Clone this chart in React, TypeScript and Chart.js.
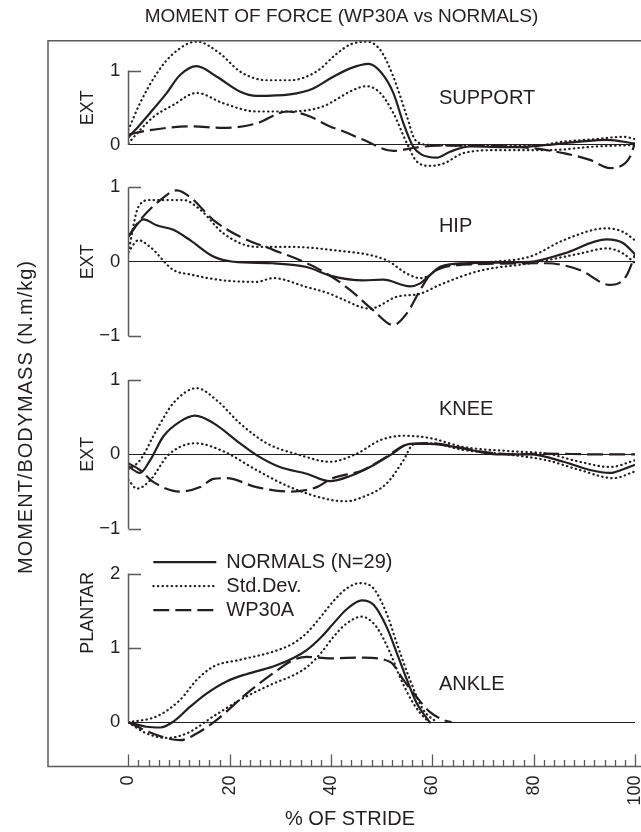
import React, { useEffect, useRef } from "react";
import { Chart, registerables } from "chart.js";

Chart.register(...registerables);

type Pt = [number, number];

// ---- data: [% of stride, moment (N.m/kg)] ----
const supportNormal: Pt[] = [[0, 0.1], [2, 0.25], [4.3, 0.43], [7.6, 0.7], [10.2, 0.94], [13.5, 1.06], [17.4, 0.92], [22, 0.72], [25.3, 0.66], [31.9, 0.68], [36.5, 0.76], [40, 0.9], [43.8, 1.03], [47.4, 1.09], [49.7, 0.99], [52.3, 0.7], [54.3, 0.29], [56.2, -0.02], [57.9, -0.13], [60.9, -0.17], [63.5, -0.09], [67.4, -0.02], [75.9, -0.03], [82.6, 0], [89.1, 0.045], [94.4, 0.07], [100, 0.02]];
const supportSdHigh: Pt[] = [[0, 0.2], [2.3, 0.56], [5.6, 0.96], [8.9, 1.23], [13.5, 1.39], [18.1, 1.23], [22, 0.99], [27.3, 0.87], [31.9, 0.87], [37.2, 0.99], [41, 1.22], [43.8, 1.35], [47, 1.39], [49.7, 1.28], [52.3, 0.92], [55, 0.38], [56.6, 0.07], [59.5, 0], [70, -0.01], [80, -0.01], [85.9, 0.045], [92.4, 0.08], [97.7, 0.11], [100, 0.08]];
const supportSdLow: Pt[] = [[0, 0.02], [2.3, 0.2], [5, 0.38], [8.9, 0.54], [13.5, 0.7], [18.8, 0.56], [25.3, 0.45], [31.9, 0.45], [38.5, 0.52], [41, 0.61], [43.8, 0.72], [47, 0.79], [49.7, 0.7], [52.3, 0.43], [55, 0.02], [56.9, -0.22], [59.5, -0.28], [62.2, -0.25], [66.1, -0.11], [72.7, -0.07], [82.6, -0.07], [92.4, -0.02], [100, 0]];
const supportPatient: Pt[] = [[0, 0.14], [4.3, 0.2], [12.2, 0.25], [18.8, 0.23], [25.3, 0.29], [31.3, 0.45], [35.2, 0.4], [39.8, 0.25], [41.8, 0.2], [46.4, 0.07], [52.3, -0.08], [56.2, -0.04], [60.9, -0.01], [69.4, -0.01], [79.3, -0.04], [85.9, -0.11], [91.1, -0.2], [95.1, -0.31], [97, -0.29], [99, -0.16], [100, 0.03]];

const hipNormal: Pt[] = [[0, 0.34], [3, 0.57], [5.6, 0.49], [8.9, 0.43], [12.2, 0.29], [16.8, 0.07], [20.7, 0], [28.6, -0.02], [35.2, -0.07], [40, -0.19], [46.4, -0.25], [50.3, -0.24], [55.6, -0.33], [57.6, -0.29], [59.5, -0.18], [61.5, -0.07], [66.1, -0.02], [79.3, 0], [85.9, 0.11], [94.4, 0.3], [97.7, 0.25], [100, 0.1]];
const hipSdHigh: Pt[] = [[0, 0.13], [2, 0.74], [4.3, 0.83], [8.9, 0.83], [10.9, 0.83], [14.2, 0.7], [18.8, 0.38], [25.3, 0.2], [31.9, 0.2], [40, 0.16], [51, 0.02], [55, -0.16], [57.6, -0.22], [59.5, -0.18], [61.5, -0.07], [66, -0.03], [72, 0], [79.3, 0.07], [85.9, 0.29], [94.4, 0.45], [97.7, 0.4], [100, 0.29]];
const hipSdLow: Pt[] = [[0, 0.13], [2, 0.29], [4.3, 0.2], [8.9, -0.11], [12.2, -0.17], [18.8, -0.25], [25.3, -0.27], [28.6, -0.22], [35.2, -0.34], [39.8, -0.43], [41.8, -0.49], [47.7, -0.63], [53, -0.47], [57.6, -0.43], [61.5, -0.31], [69.4, -0.12], [79.3, -0.02], [89.1, 0.11], [94.4, 0.18], [97.7, 0.11], [100, -0.02]];
const hipPatient: Pt[] = [[0, 0.34], [2.3, 0.56], [6.3, 0.83], [9.6, 0.96], [12.2, 0.87], [16.8, 0.56], [22, 0.34], [28.6, 0.16], [33.9, 0.02], [39.2, -0.16], [43.8, -0.38], [48.3, -0.65], [52.3, -0.85], [55, -0.69], [57.6, -0.38], [59.5, -0.18], [62, -0.08], [66, -0.04], [82.6, -0.02], [89.1, -0.11], [95, -0.31], [97.6, -0.25], [98.6, -0.15], [99.6, 0.02], [100, 0.1]];

const kneeNormal: Pt[] = [[0, -0.16], [2.3, -0.25], [4.3, -0.08], [6.9, 0.24], [10.2, 0.44], [13.2, 0.52], [16.8, 0.42], [22, 0.15], [25.3, -0.01], [29.9, -0.17], [35.2, -0.26], [39.8, -0.36], [43.8, -0.29], [47.7, -0.17], [51.7, -0.01], [55.6, 0.14], [59.5, 0.14], [66.1, 0.08], [72.7, 0], [79.3, 0], [85.9, -0.1], [91.1, -0.21], [95.1, -0.25], [97.7, -0.2], [100, -0.14]];
const kneeSdHigh: Pt[] = [[0, -0.2], [2.3, -0.08], [5.6, 0.33], [8.9, 0.69], [13.5, 0.89], [17.4, 0.73], [22, 0.42], [27.3, 0.15], [33.9, -0.01], [39.8, -0.1], [45.1, 0.01], [49.7, 0.19], [54.3, 0.25], [59.5, 0.22], [66.1, 0.1], [76, 0.04], [82.6, 0.01], [89.1, -0.1], [95.1, -0.17], [100, -0.08]];
const kneeSdLow: Pt[] = [[0, -0.34], [1.7, -0.46], [4.3, -0.35], [7.6, -0.03], [10.2, 0.1], [13.2, 0.15], [18.8, 0.04], [25.3, -0.21], [31.9, -0.44], [39.8, -0.61], [43, -0.63], [46.4, -0.57], [51, -0.39], [54.3, -0.08], [56.2, 0.13], [59.5, 0.15], [66.1, 0.06], [76, -0.01], [82.6, -0.08], [89.1, -0.21], [95.7, -0.32], [100, -0.23]];
const kneePatient: Pt[] = [[0, -0.12], [2.3, -0.21], [4.9, -0.37], [10.2, -0.5], [14.2, -0.44], [16.8, -0.33], [19.4, -0.32], [25.3, -0.44], [31.9, -0.5], [37.2, -0.44], [40, -0.33], [46.4, -0.21], [51, -0.03], [54.9, 0.13], [59.5, 0.15], [69.4, 0.04], [76, 0], [82.6, 0.01], [92.4, 0], [100, 0]];

const ankleNormal: Pt[] = [[0, 0], [3.6, -0.06], [6.3, -0.07], [8.9, 0.01], [12.2, 0.21], [15.5, 0.39], [19.4, 0.55], [23.4, 0.65], [28.6, 0.75], [32.5, 0.86], [35.2, 0.97], [38, 1.14], [40.5, 1.33], [43.1, 1.52], [46.1, 1.64], [48.4, 1.58], [51, 1.28], [53, 0.93], [55, 0.57], [56.9, 0.26], [59.5, 0]];
const ankleSdHigh: Pt[] = [[0, 0], [5.6, 0.08], [10.2, 0.3], [13.5, 0.57], [16.8, 0.75], [22, 0.84], [28.6, 0.95], [32.5, 1.06], [35.2, 1.2], [38, 1.42], [40.5, 1.63], [43.1, 1.8], [45.7, 1.87], [48.4, 1.8], [51, 1.46], [53, 1.06], [55.6, 0.57], [58.2, 0.17], [60.9, 0]];
const ankleSdLow: Pt[] = [[0, 0], [3.6, -0.15], [7.6, -0.21], [11.5, -0.15], [16.8, 0.08], [22, 0.3], [28.6, 0.52], [32.5, 0.63], [35.2, 0.74], [38, 0.93], [40.5, 1.15], [43.1, 1.33], [46.1, 1.42], [49, 1.28], [51.7, 0.93], [53.6, 0.61], [56.2, 0.26], [58.9, 0.03], [59.5, 0]];
const anklePatient: Pt[] = [[0, 0], [5.6, -0.17], [10.2, -0.24], [13.5, -0.15], [17.4, 0.03], [23.4, 0.39], [28.6, 0.66], [32.6, 0.84], [35.2, 0.88], [39.8, 0.86], [46.4, 0.87], [51.7, 0.81], [54.3, 0.57], [56.9, 0.34], [59.5, 0.14], [62.2, 0.03], [63.8, 0]];

// ---- panel definitions (top to bottom) ----
const panelIds = ["ySupport", "yHip", "yKnee", "yAnkle"];
const panelNames = ["SUPPORT", "HIP", "KNEE", "ANKLE"];
const panelNameY = [0.62, 0.47, 0.61, 0.51];
const panelAxisTitles = ["EXT", "EXT", "EXT", "PLANTAR"];
const panelAxisTitleY = [0.5, 0, 0, 1.47];
const panelTicks = [[0, 1], [-1, 0, 1], [-1, 0, 1], [0, 1, 2]];
const panelRanges: Pt[] = [[-0.44, 1.402], [-1.294, 1.13], [-1.286, 1.295], [-0.594, 2.316]];
const panelSeries: Pt[][][] = [
  [supportNormal, supportSdHigh, supportSdLow, supportPatient],
  [hipNormal, hipSdHigh, hipSdLow, hipPatient],
  [kneeNormal, kneeSdHigh, kneeSdLow, kneePatient],
  [ankleNormal, ankleSdHigh, ankleSdLow, anklePatient],
];
const xMajorTicks = [0, 20, 40, 60, 80, 100];
const legendLabels = ["NORMALS (N=29)", "Std.Dev.", "WP30A"];

const INK = "#231f20";
const FRAME = "#5a5a5c";
const FONT = '"Liberation Sans", Arial, Helvetica, sans-serif';

type LineStyle = { borderDash: number[]; borderWidth: number; borderCapStyle: CanvasLineCap };
const lineStyles: LineStyle[] = [
  { borderDash: [], borderWidth: 2.2, borderCapStyle: "butt" },
  { borderDash: [0.4, 4.2], borderWidth: 2.2, borderCapStyle: "round" },
  { borderDash: [16, 6], borderWidth: 2.2, borderCapStyle: "butt" },
];
const seriesStyle = [0, 1, 1, 2];

const decorations = {
  id: "decorations",
  afterDraw(chart: any) {
    const ctx: CanvasRenderingContext2D = chart.ctx;
    const { top, bottom } = chart.chartArea;
    const xs = chart.scales.x;
    const frameLeft = chart.scales[panelIds[0]].left;
    ctx.save();

    // outer frame (left, top, bottom)
    ctx.strokeStyle = FRAME;
    ctx.lineWidth = 1.5;
    ctx.beginPath();
    ctx.moveTo(chart.width, top);
    ctx.lineTo(frameLeft, top);
    ctx.lineTo(frameLeft, bottom);
    ctx.lineTo(chart.width, bottom);
    ctx.stroke();

    // inward x ticks, major every 20 %, minor every 2 %
    ctx.lineWidth = 1.3;
    ctx.beginPath();
    for (let v = 0; v <= 100; v += 2) {
      const px = Math.round(xs.getPixelForValue(v)) + 0.5;
      const len = v % 20 === 0 ? 12 : 6.5;
      ctx.moveTo(px, bottom);
      ctx.lineTo(px, bottom - len);
    }
    ctx.stroke();

    panelIds.forEach((id, i) => {
      const s = chart.scales[id];
      const ticks = panelTicks[i];
      const ax = Math.round(s.right) + 0.5;
      ctx.strokeStyle = FRAME;
      ctx.lineWidth = 1.5;
      ctx.beginPath();
      ctx.moveTo(ax, s.getPixelForValue(ticks[0]));
      ctx.lineTo(ax, s.getPixelForValue(ticks[ticks.length - 1]));
      ticks.forEach((t) => {
        if (t === 0) return;
        const py = Math.round(s.getPixelForValue(t)) + 0.5;
        ctx.moveTo(ax, py);
        ctx.lineTo(ax + 12.5, py);
      });
      ctx.stroke();

      // panel name
      ctx.fillStyle = INK;
      ctx.font = `20px ${FONT}`;
      ctx.textAlign = "left";
      ctx.textBaseline = "middle";
      ctx.fillText(panelNames[i], xs.getPixelForValue(61.3), s.getPixelForValue(panelNameY[i]));

      // axis sense label
      ctx.save();
      ctx.translate(88, s.getPixelForValue(panelAxisTitleY[i]));
      ctx.rotate(-Math.PI / 2);
      ctx.font = `18px ${FONT}`;
      ctx.textAlign = "center";
      ctx.fillText(panelAxisTitles[i], 0, 0);
      ctx.restore();
    });

    // common axis titles
    ctx.fillStyle = INK;
    ctx.font = `20px ${FONT}`;
    ctx.textAlign = "center";
    ctx.textBaseline = "middle";
    ctx.fillText("% OF STRIDE", 350, 819);
    ctx.save();
    ctx.translate(26, 417);
    ctx.rotate(-Math.PI / 2);
    (ctx as any).letterSpacing = "1px";
    ctx.fillText("MOMENT/BODYMASS (N.m/kg)", 0, 0);
    ctx.restore();

    // legend in the ankle panel
    const ankle = chart.scales[panelIds[3]];
    const lx = chart.chartArea.left + 25;
    legendLabels.forEach((label, k) => {
      const y = ankle.top + 12 + k * 24;
      const st = lineStyles[k];
      ctx.strokeStyle = INK;
      ctx.lineWidth = st.borderWidth;
      ctx.lineCap = st.borderCapStyle;
      ctx.setLineDash(st.borderDash);
      ctx.beginPath();
      ctx.moveTo(lx, y);
      ctx.lineTo(lx + 63, y);
      ctx.stroke();
      ctx.setLineDash([]);
      ctx.fillStyle = INK;
      ctx.font = `20px ${FONT}`;
      ctx.textAlign = "left";
      ctx.fillText(label, lx + 73, y);
    });

    ctx.restore();
  },
};

export default function App() {
  const canvasRef = useRef<HTMLCanvasElement | null>(null);

  useEffect(() => {
    if (!canvasRef.current) return;

    const datasets: any[] = [];
    panelSeries.forEach((series, i) => {
      series.forEach((pts, j) => {
        const st = lineStyles[seriesStyle[j]];
        datasets.push({
          type: "line",
          data: pts.map(([x, y]) => ({ x, y })),
          yAxisID: panelIds[i],
          borderColor: INK,
          borderWidth: st.borderWidth,
          borderDash: st.borderDash,
          borderCapStyle: st.borderCapStyle,
          borderJoinStyle: "round",
          pointRadius: 0,
          fill: false,
          cubicInterpolationMode: "monotone",
        });
      });
    });

    const scales: any = {
      x: {
        type: "linear",
        position: "bottom",
        min: 0,
        max: 100,
        grid: { display: false, drawTicks: false },
        border: { display: false },
        ticks: {
          color: INK,
          font: { family: FONT, size: 18 },
          padding: 9,
          minRotation: 90,
          maxRotation: 90,
          autoSkip: false,
        },
        afterBuildTicks: (s: any) => {
          s.ticks = xMajorTicks.map((value) => ({ value }));
        },
        afterFit: (s: any) => {
          s.height = 65.5;
          s.paddingLeft = 0;
          s.paddingRight = 0;
        },
      },
    };
    // stacked left axes are laid out bottom-up, so register the lowest panel first
    for (let i = panelIds.length - 1; i >= 0; i--) {
      const [min, max] = panelRanges[i];
      scales[panelIds[i]] = {
        type: "linear",
        position: "left",
        stack: "panels",
        stackWeight: max - min,
        min,
        max,
        border: { display: false },
        grid: {
          drawTicks: false,
          lineWidth: 1,
          color: (c: any) => (c.tick && c.tick.value === 0 ? INK : "rgba(0,0,0,0)"),
        },
        ticks: {
          color: INK,
          font: { family: FONT, size: 18.5 },
          padding: 8,
          callback: (v: number) => (v < 0 ? "\u2212" + Math.abs(v) : String(v)),
        },
        afterBuildTicks: (s: any) => {
          s.ticks = panelTicks[i].map((value) => ({ value }));
        },
        afterFit: (s: any) => {
          s.width = 80.3;
        },
      };
    }

    const chart = new Chart(canvasRef.current, {
      type: "line",
      data: { datasets },
      options: {
        responsive: false,
        animation: false,
        parsing: true,
        layout: { padding: { left: 48, right: 6, top: 0, bottom: 0 } },
        plugins: {
          legend: { display: false },
          tooltip: { enabled: false },
          title: {
            display: true,
            text: "MOMENT OF FORCE (WP30A vs NORMALS)",
            color: INK,
            font: { family: FONT, size: 19, weight: "normal" },
            padding: { top: 5.6, bottom: 12.3 },
          },
        },
        scales,
      } as any,
      plugins: [decorations],
    });

    return () => chart.destroy();
  }, []);

  return (
    <div style={{ position: "absolute", left: 0, top: 0, width: 641, height: 832, background: "#fff" }}>
      <canvas ref={canvasRef} width={641} height={832} style={{ display: "block" }} />
    </div>
  );
}
